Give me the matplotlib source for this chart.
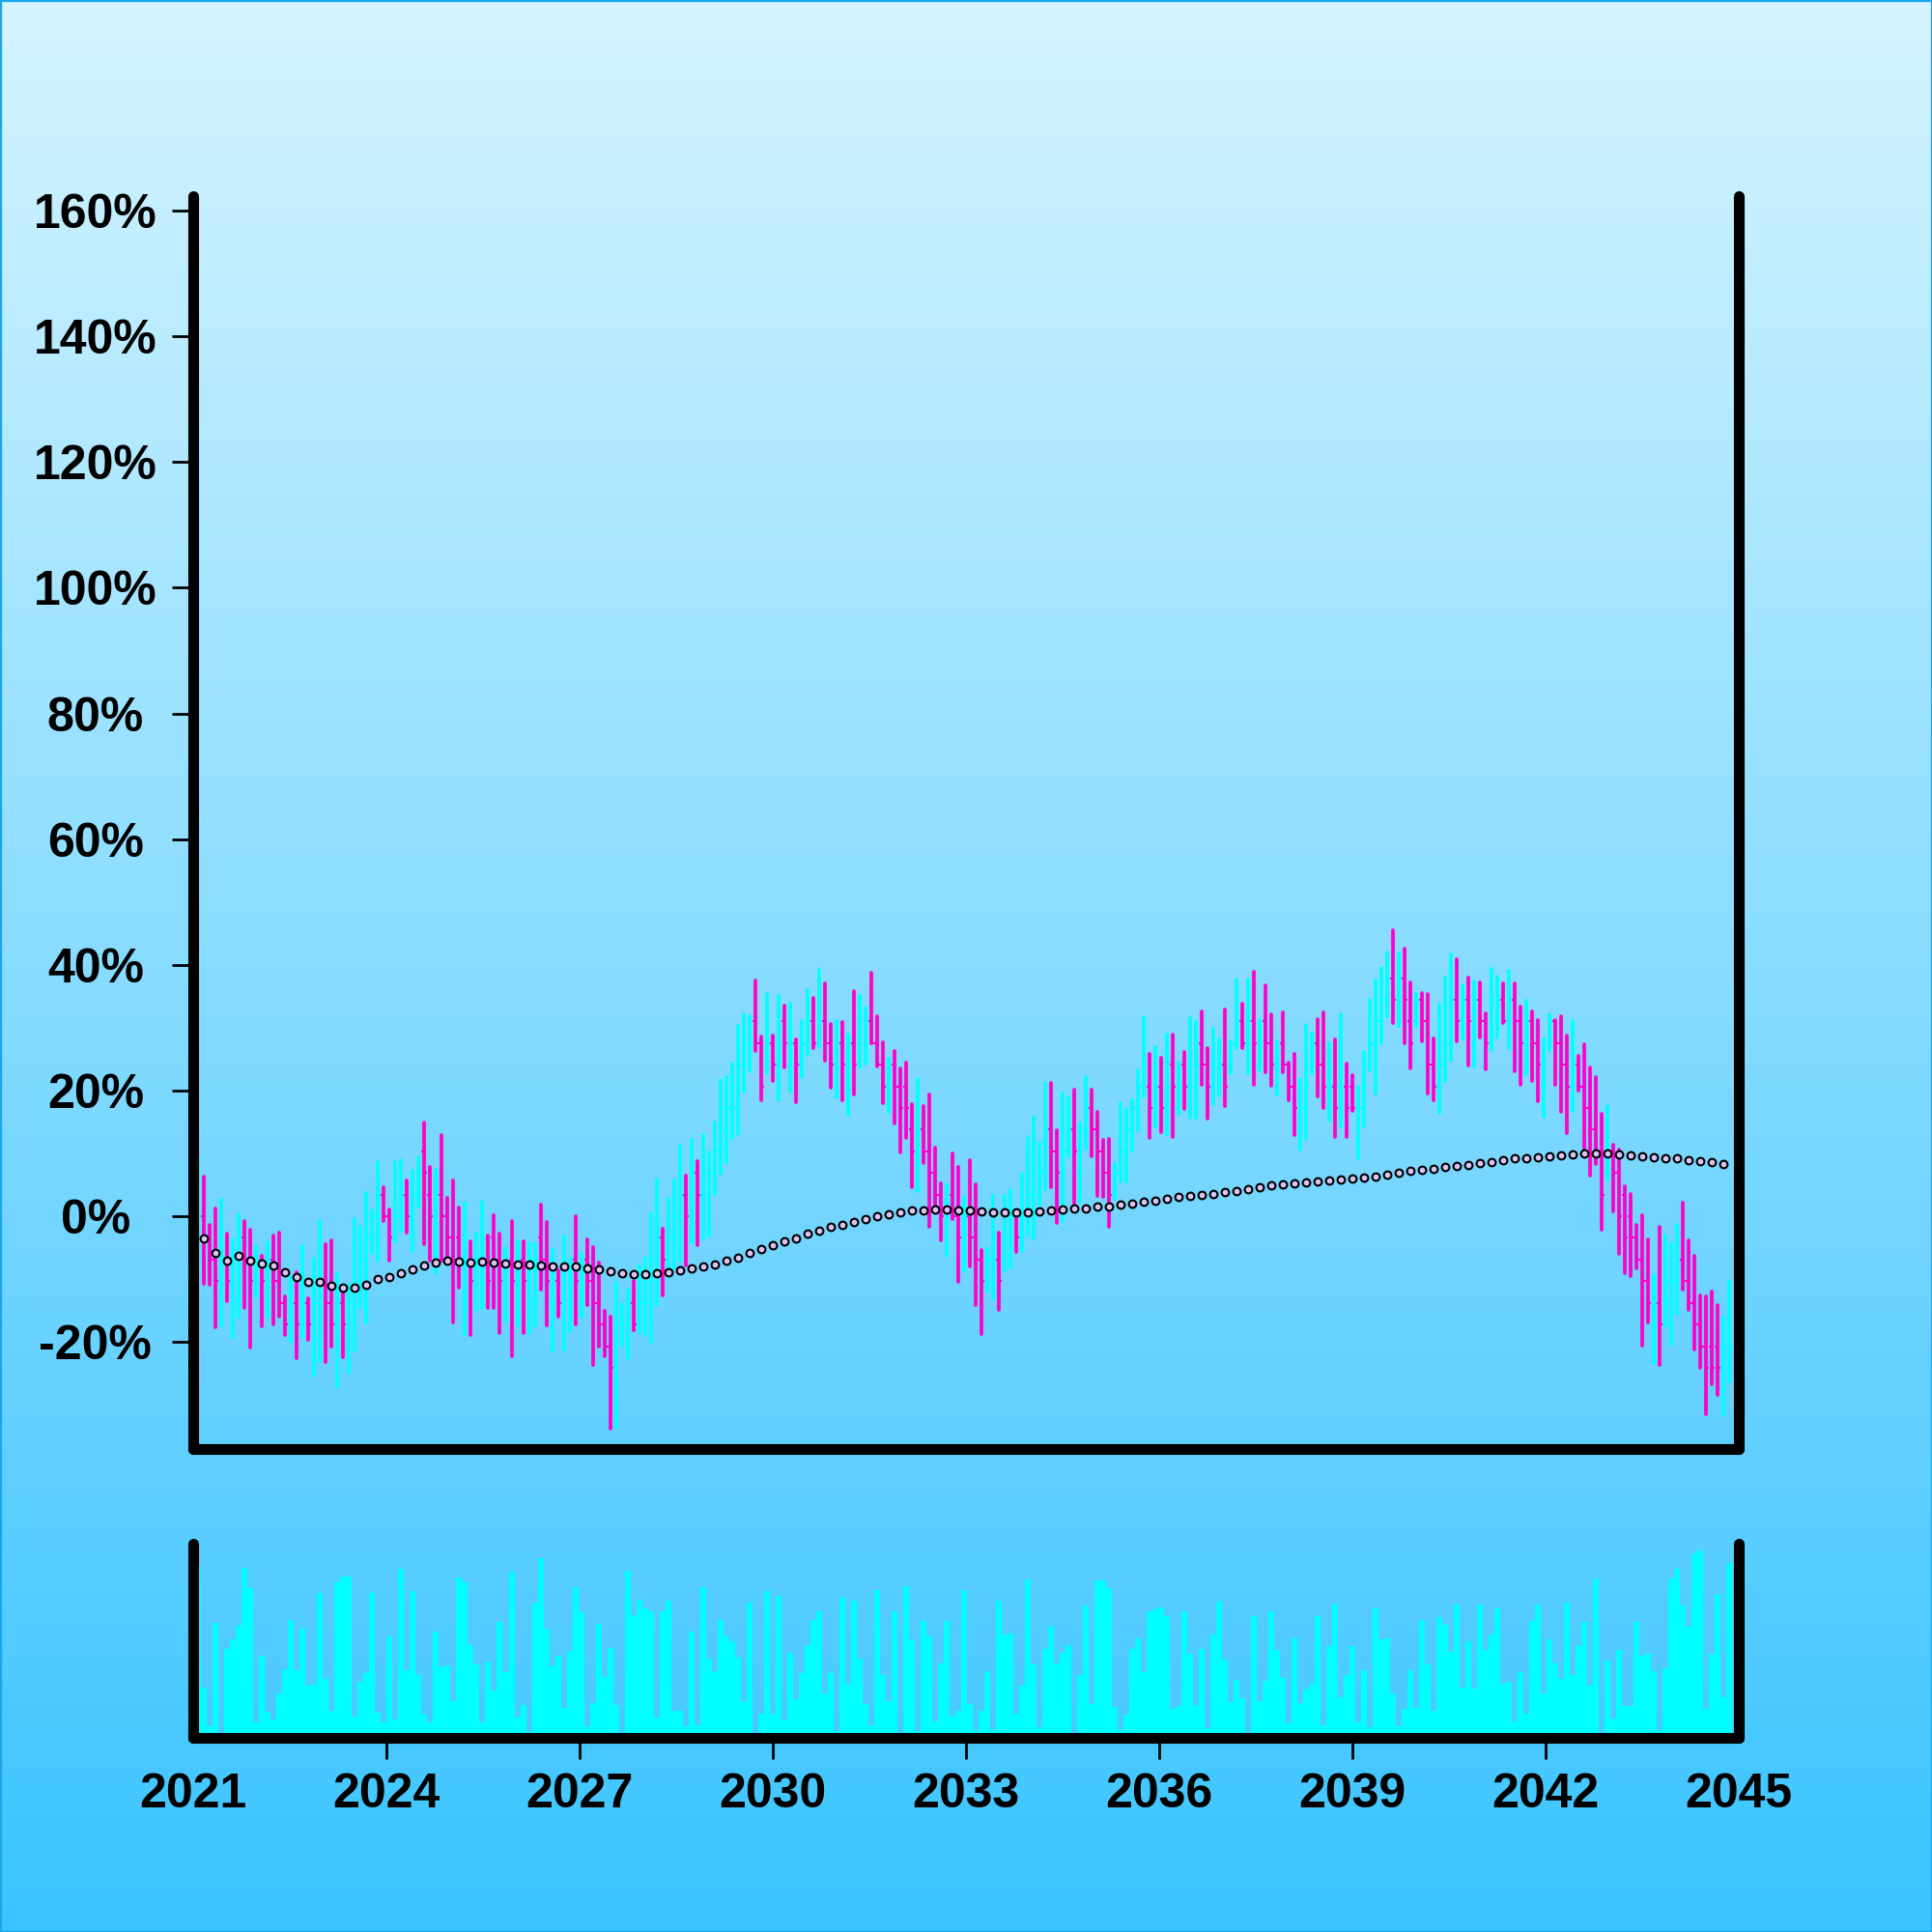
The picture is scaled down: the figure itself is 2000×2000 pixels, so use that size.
import numpy as np
import pandas as pd
import matplotlib
matplotlib.use("Agg")
import matplotlib.pyplot as plt
import matplotlib.dates as mdates
from matplotlib.collections import LineCollection
from matplotlib.patches import Rectangle
from datetime import datetime

plt.rcParams['font.family'] = ['Liberation Sans', 'DejaVu Sans']

# ---- data (percent change vs. start) ----
opens = [
    -3.4, 0, -3.4, -6.9, -10.3, -6.9, -10.3, -6.9, -3.4, -6.9,
    -10.3, -6.9, -10.3, -6.9, -10.3, -13.8, -17.2, -13.8, -17.2, -13.8,
    -17.2, -13.8, -10.3, -13.8, -17.2, -13.8, -17.2, -13.8, -10.3, -6.9,
    -3.4, 0, 3.4, 0, -3.4, 0, 3.4, 0, 3.4, 10.3,
    3.4, 0, 3.4, 0, -3.4, -3.4, -6.9, -6.9, -10.3, -6.9,
    -6.9, -3.4, -6.9, -10.3, -6.9, -10.3, -6.9, -10.3, -13.8, -3.4,
    -6.9, -13.8, -10.3, -13.8, -13.8, -6.9, -13.8, -6.9, -10.3, -13.8,
    -17.2, -20.7, -24.1, -17.2, -17.2, -13.8, -17.2, -13.8, -13.8, -10.3,
    -3.4, -6.9, -3.4, 0, 3.4, 0, 6.9, 3.4, 3.4, 6.9,
    10.3, 13.8, 17.2, 17.2, 24.1, 24.1, 31.0, 27.6, 24.1, 27.6,
    24.1, 31.0, 24.1, 27.6, 24.1, 27.6, 31.0, 27.6, 31.0, 27.6,
    24.1, 27.6, 24.1, 27.6, 27.6, 27.6, 31.0, 27.6, 24.1, 20.7,
    24.1, 20.7, 20.7, 13.8, 10.3, 13.8, 10.3, 6.9, 3.4, -3.4,
    3.4, 0, -3.4, 0, -3.4, -6.9, -10.3, -6.9, -6.9, -6.9,
    -3.4, 0, -3.4, 0, 3.4, 3.4, 6.9, 13.8, 10.3, 6.9,
    10.3, 13.8, 6.9, 13.8, 17.2, 13.8, 10.3, 6.9, 3.4, 6.9,
    10.3, 13.8, 17.2, 20.7, 20.7, 17.2, 20.7, 17.2, 24.1, 17.2,
    24.1, 20.7, 20.7, 27.6, 24.1, 20.7, 20.7, 24.1, 24.1, 27.6,
    31.0, 27.6, 31.0, 24.1, 31.0, 27.6, 20.7, 27.6, 24.1, 20.7,
    13.8, 17.2, 24.1, 27.6, 24.1, 17.2, 20.7, 20.7, 20.7, 20.7,
    13.8, 17.2, 24.1, 27.6, 31.0, 34.5, 37.9, 34.5, 37.9, 31.0,
    31.0, 34.5, 31.0, 24.1, 20.7, 24.1, 27.6, 34.5, 31.0, 34.5,
    27.6, 34.5, 31.0, 27.6, 31.0, 34.5, 31.0, 34.5, 31.0, 27.6,
    31.0, 27.6, 20.7, 27.6, 31.0, 27.6, 24.1, 20.7, 24.1, 20.7,
    17.2, 13.8, 10.3, 6.9, 10.3, 6.9, 3.4, 0, -3.4, -6.9,
    -10.3, -17.2, -13.8, -13.8, -13.8, -10.3, -6.9, -10.3, -13.8, -17.2,
    -20.7, -20.7, -20.7, -24.1, -24.1,
]
highs = [
    9.3, 6.4, -1.4, 1.2, 2.6, -2.7, -3.7, 0.4, -0.7, -2.1,
    -4.8, -6.3, -4.1, -3.1, -2.6, -12.7, -9.6, -8.9, -4.7, -13.0,
    -6.8, -0.8, -4.5, -3.8, -9.1, -11.9, -10.9, -0.4, -1.6, 3.7,
    1.0, 8.7, 4.6, 1.1, 8.6, 9.0, 5.7, 7.3, 9.4, 15.0,
    7.8, 7.4, 13.0, 3.0, 5.7, 1.4, 2.2, -4.0, -2.7, 2.3,
    -3.0, 0.2, -2.7, -5.0, -0.7, -4.0, -4.0, -4.3, -4.4, 1.9,
    -0.9, -5.2, -8.6, -3.2, -6.8, 0.0, -6.0, -3.6, -4.9, -7.3,
    -15.0, -16.0, -10.6, -13.9, -11.6, -10.2, -7.8, -6.6, 0.5, 5.8,
    -1.9, 2.8, 5.7, 11.3, 6.5, 12.2, 8.8, 13.0, 10.1, 15.0,
    21.7, 22.1, 24.3, 30.3, 32.1, 31.8, 37.5, 28.6, 35.4, 28.8,
    35.0, 33.5, 33.8, 28.1, 31.1, 36.0, 34.7, 39.2, 37.0, 30.6,
    31.0, 30.9, 28.9, 35.8, 35.1, 33.3, 38.7, 31.8, 27.7, 25.1,
    26.3, 23.5, 24.4, 17.8, 21.9, 17.6, 19.4, 10.9, 5.2, 5.1,
    10.0, 7.8, 3.0, 8.9, 5.1, -5.4, -5.1, 3.2, -2.6, 3.2,
    4.2, 0.4, 6.8, 12.6, 15.9, 11.7, 21.3, 21.2, 13.7, 19.6,
    19.0, 20.1, 14.8, 22.1, 20.1, 16.7, 12.2, 12.3, 8.3, 18.0,
    17.1, 18.4, 23.2, 31.7, 25.8, 27.0, 25.3, 28.9, 28.9, 24.4,
    26.1, 31.6, 30.9, 32.6, 26.8, 29.8, 28.1, 32.9, 27.8, 37.7,
    33.8, 37.7, 38.9, 31.2, 36.7, 32.2, 27.8, 32.4, 24.5, 25.9,
    21.9, 30.5, 29.1, 31.4, 32.4, 27.5, 28.1, 32.1, 24.3, 22.5,
    20.6, 26.1, 34.4, 37.5, 39.6, 42.0, 45.5, 41.9, 42.6, 37.2,
    35.3, 35.5, 35.3, 28.3, 33.7, 38.0, 41.6, 40.9, 36.7, 38.0,
    37.4, 37.2, 32.3, 39.3, 38.1, 37.0, 39.0, 37.1, 33.4, 34.3,
    32.6, 31.2, 28.2, 32.2, 31.3, 31.8, 28.7, 31.0, 25.6, 27.4,
    23.7, 22.1, 16.3, 17.5, 11.4, 10.6, 4.8, 3.5, -1.4, 0.2,
    -3.7, -9.4, -1.7, -3.1, -4.3, -1.4, 2.2, -3.8, -6.3, -12.5,
    -12.7, -12.0, -14.1, -16.0, -10.4,
]
lows = [
    -8.4, -10.8, -10.9, -17.6, -17.4, -13.5, -19.3, -16.0, -14.5, -20.8,
    -12.7, -17.5, -15.9, -17.2, -16.0, -18.9, -19.9, -22.6, -19.1, -19.6,
    -25.3, -23.0, -23.1, -20.7, -27.1, -22.4, -24.9, -21.4, -14.5, -16.8,
    -5.8, -7.1, -0.7, -7.0, -4.0, -2.2, -2.6, -5.5, 1.5, -4.4,
    -7.1, -9.1, -7.1, -7.1, -16.8, -11.3, -18.7, -18.9, -14.8, -14.5,
    -14.6, -14.6, -18.5, -16.6, -22.2, -17.3, -18.6, -18.6, -17.3, -11.7,
    -17.3, -21.3, -16.0, -21.1, -18.3, -17.2, -16.0, -14.1, -23.7, -20.7,
    -22.2, -33.7, -33.4, -20.5, -22.6, -18.1, -18.4, -18.9, -19.9, -14.1,
    -12.5, -9.6, -8.3, -7.0, -7.8, -4.1, -4.6, -3.5, -3.0, 3.6,
    6.8, 8.6, 12.5, 13.1, 19.8, 23.1, 26.3, 18.4, 22.7, 21.5,
    18.4, 23.7, 19.8, 18.2, 22.1, 25.7, 26.8, 27.0, 24.8, 20.5,
    18.9, 18.5, 16.1, 19.4, 23.7, 24.3, 27.5, 23.8, 18.0, 16.6,
    14.8, 10.2, 12.5, 4.7, 4.1, 8.5, -1.6, 1.4, -3.8, -6.2,
    -0.5, -10.4, -8.6, -7.9, -14.1, -18.7, -12.0, -13.1, -14.9, -8.5,
    -8.1, -5.7, -5.5, -3.0, -3.5, 1.8, 4.4, 4.7, -1.0, -0.7,
    9.5, 2.0, 2.3, 10.8, 9.5, 3.2, 3.1, -1.7, 2.8, 5.5,
    5.6, 10.5, 13.7, 19.1, 12.5, 14.3, 13.4, 13.1, 12.7, 16.3,
    17.1, 15.7, 15.7, 21.0, 15.6, 17.9, 19.2, 17.5, 22.8, 26.8,
    26.8, 22.8, 21.0, 23.3, 23.0, 20.8, 19.4, 22.9, 18.4, 12.9,
    10.6, 12.3, 22.8, 19.1, 17.3, 15.2, 12.6, 14.3, 12.6, 16.8,
    9.3, 14.3, 23.2, 19.6, 27.5, 31.9, 30.7, 30.3, 27.6, 23.5,
    30.1, 27.9, 19.6, 18.4, 16.5, 21.6, 24.8, 27.9, 28.3, 24.0,
    23.9, 28.4, 23.4, 26.5, 28.4, 30.8, 26.8, 23.1, 21.0, 22.6,
    21.5, 18.3, 15.8, 26.5, 21.0, 16.6, 13.3, 16.8, 20.0, 10.6,
    6.5, 8.4, -2.1, 5.9, 0.8, -5.9, -9.1, -9.5, -8.2, -20.6,
    -16.9, -23.4, -23.7, -17.3, -20.4, -15.5, -11.7, -14.8, -21.1, -24.1,
    -31.4, -26.7, -28.4, -31.6, -26.3,
]
closes = [
    0, -3.4, -6.9, -10.3, -6.9, -10.3, -6.9, -3.4, -6.9, -10.3,
    -6.9, -10.3, -6.9, -10.3, -13.8, -17.2, -13.8, -17.2, -13.8, -17.2,
    -13.8, -10.3, -13.8, -17.2, -13.8, -17.2, -13.8, -10.3, -6.9, -3.4,
    0, 3.4, 0, -3.4, 0, 3.4, 0, 3.4, 6.9, 6.9,
    0, 3.4, 0, -3.4, -6.9, -6.9, -3.4, -10.3, -6.9, -3.4,
    -10.3, -6.9, -10.3, -6.9, -10.3, -6.9, -10.3, -6.9, -6.9, -6.9,
    -10.3, -10.3, -13.8, -10.3, -10.3, -10.3, -10.3, -10.3, -13.8, -17.2,
    -20.7, -24.1, -17.2, -14.5, -13.8, -17.2, -13.8, -10.3, -6.9, -3.4,
    -6.9, -3.4, 0, 3.4, 0, 6.9, 3.4, 6.9, 6.9, 10.3,
    17.2, 17.2, 20.7, 24.1, 27.6, 27.6, 27.6, 20.7, 27.6, 24.1,
    27.6, 27.6, 27.6, 24.1, 27.6, 31.0, 27.6, 31.0, 27.6, 24.1,
    27.6, 24.1, 27.6, 24.1, 31.0, 31.0, 27.6, 24.1, 20.7, 24.1,
    20.7, 17.2, 17.2, 10.3, 13.8, 10.3, 6.9, 3.4, 0, 0,
    0, -3.4, 0, -3.4, -6.9, -10.3, -6.9, -3.4, -10.3, -3.4,
    0, -3.4, 0, 3.4, 6.9, 6.9, 13.8, 10.3, 6.9, 10.3,
    13.8, 10.3, 10.3, 17.2, 13.8, 10.3, 6.9, 3.4, 6.9, 10.3,
    13.8, 17.2, 20.7, 24.1, 17.2, 20.7, 17.2, 20.7, 20.7, 20.7,
    20.7, 24.1, 24.1, 24.1, 20.7, 24.1, 24.1, 20.7, 27.6, 31.0,
    27.6, 31.0, 27.6, 27.6, 27.6, 24.1, 24.1, 24.1, 20.7, 17.2,
    17.2, 20.7, 27.6, 24.1, 20.7, 20.7, 17.2, 24.1, 17.2, 17.2,
    17.2, 20.7, 27.6, 31.0, 34.5, 37.9, 34.5, 37.9, 34.5, 27.6,
    34.5, 31.0, 24.1, 20.7, 24.1, 27.6, 34.5, 31.0, 34.5, 31.0,
    34.5, 31.0, 27.6, 34.5, 34.5, 31.0, 34.5, 31.0, 27.6, 31.0,
    27.6, 24.1, 24.1, 31.0, 27.6, 24.1, 20.7, 24.1, 20.7, 17.2,
    13.8, 10.3, 3.4, 10.3, 6.9, 0, -3.4, -3.4, -6.9, -10.3,
    -13.8, -13.8, -17.2, -10.3, -10.3, -6.9, -10.3, -13.8, -17.2, -20.7,
    -24.1, -24.1, -24.1, -20.7, -20.7,
]
volume = [
    177, 52, 12, 119, 5, 92, 102, 116, 176, 155,
    16, 85, 27, 19, 46, 71, 122, 70, 113, 54,
    55, 150, 61, 28, 162, 167, 167, 22, 58, 67,
    150, 26, 16, 105, 19, 175, 70, 152, 65, 24,
    16, 110, 73, 75, 38, 166, 161, 96, 76, 16,
    79, 49, 120, 68, 171, 21, 34, 6, 140, 186,
    113, 74, 85, 31, 90, 156, 130, 12, 36, 118,
    63, 93, 34, 5, 173, 127, 143, 134, 131, 21,
    131, 142, 28, 28, 12, 110, 13, 156, 82, 69,
    122, 105, 100, 83, 37, 140, 5, 25, 152, 25,
    147, 18, 88, 40, 67, 96, 122, 131, 46, 67,
    7, 145, 56, 142, 82, 35, 13, 153, 65, 38,
    131, 5, 157, 101, 7, 121, 105, 17, 77, 121,
    22, 28, 153, 35, 7, 28, 69, 8, 142, 107,
    108, 25, 54, 164, 76, 11, 92, 116, 77, 88,
    96, 5, 65, 137, 35, 163, 163, 155, 32, 8,
    24, 92, 103, 68, 131, 133, 135, 126, 30, 33,
    131, 87, 33, 92, 10, 107, 141, 81, 37, 60,
    41, 5, 126, 38, 59, 131, 91, 62, 15, 103,
    36, 50, 56, 126, 13, 95, 139, 42, 65, 95,
    16, 70, 11, 134, 102, 103, 46, 12, 30, 70,
    31, 122, 76, 28, 125, 117, 89, 138, 52, 100,
    51, 138, 91, 107, 134, 56, 58, 17, 68, 25,
    121, 138, 46, 102, 77, 61, 140, 65, 95, 120,
    54, 165, 5, 80, 20, 91, 33, 33, 120, 85,
    87, 69, 8, 72, 165, 175, 137, 115, 191, 194,
    30, 87, 149, 42, 181,
]
# moving average, drawn on every second bar
ma = [
    -3.5, -5.8, -7.0, -6.3, -7.0, -7.5, -7.8, -8.9, -9.7, -10.4,
    -10.4, -11.0, -11.4, -11.4, -10.9, -10.0, -9.7, -9.0, -8.4, -7.8,
    -7.3, -7.1, -7.2, -7.3, -7.2, -7.3, -7.5, -7.6, -7.6, -7.8,
    -7.9, -7.9, -8.0, -8.2, -8.4, -8.7, -9.0, -9.2, -9.2, -9.1,
    -8.9, -8.6, -8.3, -8.0, -7.7, -7.1, -6.5, -5.8, -5.2, -4.6,
    -4.0, -3.5, -2.8, -2.3, -1.7, -1.3, -0.9, -0.4, 0.1, 0.4,
    0.7, 0.9, 1.0, 1.1, 1.1, 1.0, 1.0, 0.8, 0.7, 0.6,
    0.6, 0.7, 0.8, 0.9, 1.1, 1.2, 1.3, 1.5, 1.6, 1.8,
    2.0, 2.3, 2.5, 2.8, 3.1, 3.2, 3.4, 3.6, 3.8, 4.1,
    4.4, 4.7, 4.9, 5.1, 5.3, 5.4, 5.6, 5.7, 5.8, 6.0,
    6.2, 6.4, 6.6, 6.9, 7.2, 7.4, 7.6, 7.8, 8.0, 8.25,
    8.5, 8.7, 9.0, 9.2, 9.3, 9.4, 9.6, 9.7, 9.9, 10.0,
    10.0, 10.0, 9.9, 9.7, 9.6, 9.4, 9.3, 9.2, 9.0, 8.8,
    8.6, 8.3,
]
ytick_vals = [-20, 0, 20, 40, 60, 80, 100, 120, 140, 160]
xtick_years = [2021, 2024, 2027, 2030, 2033, 2036, 2039, 2042, 2045]

UP = '#00ffff'
DOWN = '#ff00cc'

opens = np.array(opens)
highs = np.array(highs)
lows = np.array(lows)
closes = np.array(closes)
volume = np.array(volume)

dates = pd.date_range("2021-01-31", periods=len(closes), freq="789h")
x = mdates.date2num(dates)
step = x[1] - x[0]
half = step * 0.5

fig = plt.figure(figsize=(10, 10), dpi=200)

# gradient background
bg = fig.add_axes([0, 0, 1, 1], zorder=-10)
top = np.array([214, 244, 255]) / 255
bot = np.array([58, 196, 255]) / 255
t = np.linspace(0, 1, 256)[:, None]
grad = (top[None, :] * (1 - t) + bot[None, :] * t)[:, None, :]
bg.imshow(grad, aspect='auto', extent=[0, 1, 0, 1])
bg.axis('off')
fig.patches.append(Rectangle((0, 0), 1, 1, transform=fig.transFigure,
                             fill=False, edgecolor='#1aa6ea', linewidth=1.2))

ax = fig.add_axes([0.1, 0.25, 0.8, 0.6485])
axv = fig.add_axes([0.1, 0.1005, 0.8, 0.1005])

# ---- OHLC bars ----
up = closes >= opens
colors = np.where(up, UP, DOWN)
vsegs = [[(xi, lo), (xi, hi)] for xi, lo, hi in zip(x, lows, highs)]
osegs = [[(xi - half, o), (xi, o)] for xi, o in zip(x, opens)]
csegs = [[(xi, c), (xi + half, c)] for xi, c in zip(x, closes)]
ax.add_collection(LineCollection(vsegs, colors=colors, linewidths=1.35, capstyle='round'))
ax.add_collection(LineCollection(osegs + csegs, colors=list(colors) + list(colors),
                                 linewidths=0.75))

# moving average dots
ax.plot(x[1::2], ma, ls='none', marker='o', ms=2.8, mfc='#dcc4f2',
        mec='black', mew=0.75, zorder=5)

# ---- volume ----
axv.bar(x, volume, width=step, color=UP, linewidth=0)

x0 = mdates.date2num(datetime(2021, 1, 1))
x1 = mdates.date2num(datetime(2045, 1, 1))
for a in (ax, axv):
    a.set_xlim(x0, x1)
    a.set_facecolor('none')
    a.spines['top'].set_visible(False)
    for s in ('left', 'right', 'bottom'):
        a.spines[s].set_linewidth(4)
        a.spines[s].set_capstyle('round')
        a.spines[s].set_color('black')

ax.set_ylim(-37, 162.3)
ax.set_yticks(ytick_vals)
ax.set_yticklabels([f"{v}%" for v in ytick_vals])
ax.tick_params(axis='y', length=8, width=1, pad=28.4, labelsize=18)
ax.tick_params(axis='x', bottom=False, labelbottom=False)
for lab in ax.get_yticklabels():
    lab.set_horizontalalignment('center')
    lab.set_fontweight('bold')

axv.set_ylim(0, 201)
axv.set_yticks([])
axv.set_xticks([mdates.date2num(datetime(y, 1, 1)) for y in xtick_years])
axv.set_xticklabels([str(y) for y in xtick_years])
axv.tick_params(axis='x', length=8, width=1, pad=5, labelsize=18)
for lab in axv.get_xticklabels():
    lab.set_fontweight('bold')
# the end ticks sit under the rounded spine corners in the original
xt = axv.xaxis.get_major_ticks()
xt[0].tick1line.set_visible(False)
xt[-1].tick1line.set_visible(False)

fig.savefig("out.png", dpi=200)
